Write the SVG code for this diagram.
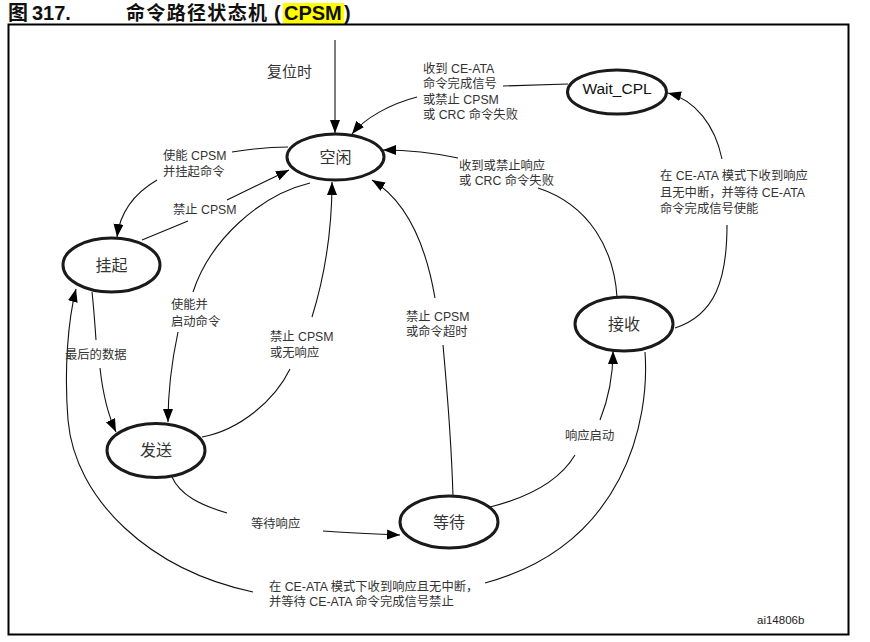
<svg xmlns="http://www.w3.org/2000/svg" width="870" height="642" viewBox="0 0 870 642">
<style>
.t{font-family:"Liberation Sans","Noto Sans CJK SC",sans-serif;font-size:12.3px;fill:#333}
.n{font-family:"Liberation Sans","Noto Sans CJK SC",sans-serif;font-size:16px;fill:#333;text-anchor:middle}
.h{font-family:"Liberation Sans","Noto Sans CJK SC",sans-serif;font-size:20px;font-weight:bold;fill:#111}
.node{fill:#fff;stroke:#1a1a1a;stroke-width:3}
.e{fill:none;stroke:#111;stroke-width:1.1}
</style>
<defs>
<marker id="ah" markerUnits="userSpaceOnUse" markerWidth="14" markerHeight="12" refX="13" refY="5" orient="auto">
<path d="M0,0 L13,5 L0,10 Z" fill="#000"/>
</marker>
</defs>
<rect width="870" height="642" fill="#fff"/>
<!-- title -->
<rect x="283" y="3" width="61" height="21" fill="#ffff00"/>
<text class="h" x="8" y="20">图 <tspan x="32">317.</tspan></text>
<text class="h" x="126" y="20"><tspan textLength="141" lengthAdjust="spacing" style="font-size:19px">命令路径状态机</tspan><tspan x="274">(</tspan><tspan x="284">CPSM</tspan><tspan x="344">)</tspan></text>
<rect x="8.5" y="24.5" width="840" height="610" fill="none" stroke="#000" stroke-width="2"/>

<g id="connectors">
<path class="e" d="M335,40 L335,133" marker-end="url(#ah)"/>
<path class="e" d="M568,84 L503,86"/>
<path class="e" d="M417,97 C390,104 365,118 352,134" marker-end="url(#ah)"/>
<path class="e" d="M617,297 C614,250 590,205 538,188"/>
<path class="e" d="M458,158 C430,152 405,150 383,150" marker-end="url(#ah)"/>
<path class="e" d="M288,147 C270,147 250,149 232,152"/>
<path class="e" d="M157,180 C135,193 120,212 117,237" marker-end="url(#ah)"/>
<path class="e" d="M142,240 L188,221"/>
<path class="e" d="M227,200 L289,170" marker-end="url(#ah)"/>
<path class="e" d="M310,183 C260,195 210,240 193,292"/>
<path class="e" d="M178,332 C172,360 168,395 168,422" marker-end="url(#ah)"/>
<path class="e" d="M202,437 C240,430 275,400 290,369"/>
<path class="e" d="M312,317 C325,275 332,230 332,182" marker-end="url(#ah)"/>
<path class="e" d="M453,497 C452,460 448,400 443,345"/>
<path class="e" d="M435,298 C425,240 405,200 372,180" marker-end="url(#ah)"/>
<path class="e" d="M172,477 C180,495 200,505 227,513"/>
<path class="e" d="M323,531 C350,533 375,534 400,535" marker-end="url(#ah)"/>
<path class="e" d="M490,507 C530,497 560,480 575,455"/>
<path class="e" d="M600,420 C608,400 613,375 613,351" marker-end="url(#ah)"/>
<path class="e" d="M675,328 C715,315 727,280 727,225"/>
<path class="e" d="M722,159 C715,125 695,100 668,93" marker-end="url(#ah)"/>
<path class="e" d="M645,352 C650,420 625,545 485,583"/>
<path class="e" d="M253,592 C150,570 75,500 68,420 C64,370 68,320 76,289" marker-end="url(#ah)"/>
<path class="e" d="M92,292 C94,310 95,325 96,340"/>
<path class="e" d="M100,368 C103,395 108,415 116,432" marker-end="url(#ah)"/>
</g>

<g id="node-idle"><ellipse class="node" cx="335.5" cy="157" rx="48.5" ry="23"/><text class="n" x="335.5" y="163">空闲</text></g>
<g id="node-waitcpl"><ellipse class="node" cx="617" cy="92" rx="49.5" ry="22"/><text class="n" x="617" y="94" style="font-size:15.5px;fill:#111">Wait_CPL</text></g>
<g id="node-pend"><ellipse class="node" cx="111.5" cy="265" rx="48.5" ry="27"/><text class="n" x="111.5" y="271">挂起</text></g>
<g id="node-send"><ellipse class="node" cx="156" cy="450.5" rx="49" ry="27"/><text class="n" x="156" y="456">发送</text></g>
<g id="node-wait"><ellipse class="node" cx="449" cy="522" rx="49" ry="26"/><text class="n" x="449" y="528">等待</text></g>
<g id="node-recv"><ellipse class="node" cx="624" cy="324" rx="49" ry="27"/><text class="n" x="624" y="330">接收</text></g>

<g id="labels">
<text class="t" x="267" y="77" style="font-size:15px">复位时</text>
<text class="t" x="423" y="73">收到 CE-ATA</text>
<text class="t" x="423" y="88">命令完成信号</text>
<text class="t" x="423" y="104">或禁止 CPSM</text>
<text class="t" x="423" y="119">或 CRC 命令失败</text>
<text class="t" x="459" y="170">收到或禁止响应</text>
<text class="t" x="459" y="185">或 CRC 命令失败</text>
<text class="t" x="163" y="160">使能 CPSM</text>
<text class="t" x="163" y="176">并挂起命令</text>
<text class="t" x="173" y="214">禁止 CPSM</text>
<text class="t" x="171" y="309">使能并</text>
<text class="t" x="171" y="326">启动命令</text>
<text class="t" x="270" y="341">禁止 CPSM</text>
<text class="t" x="270" y="357">或无响应</text>
<text class="t" x="406" y="321">禁止 CPSM</text>
<text class="t" x="406" y="336">或命令超时</text>
<text class="t" x="565" y="440">响应启动</text>
<text class="t" x="251" y="528">等待响应</text>
<text class="t" x="65" y="359">最后的数据</text>
<text class="t" x="660" y="180">在 CE-ATA 模式下收到响应</text>
<text class="t" x="660" y="197">且无中断，并等待 CE-ATA</text>
<text class="t" x="660" y="213">命令完成信号使能</text>
<text class="t" x="269" y="591">在 CE-ATA 模式下收到响应且无中断，</text>
<text class="t" x="269" y="606">并等待 CE-ATA 命令完成信号禁止</text>
<text class="t" x="757" y="624" style="font-size:11.5px;fill:#222">ai14806b</text>
</g>
</svg>
